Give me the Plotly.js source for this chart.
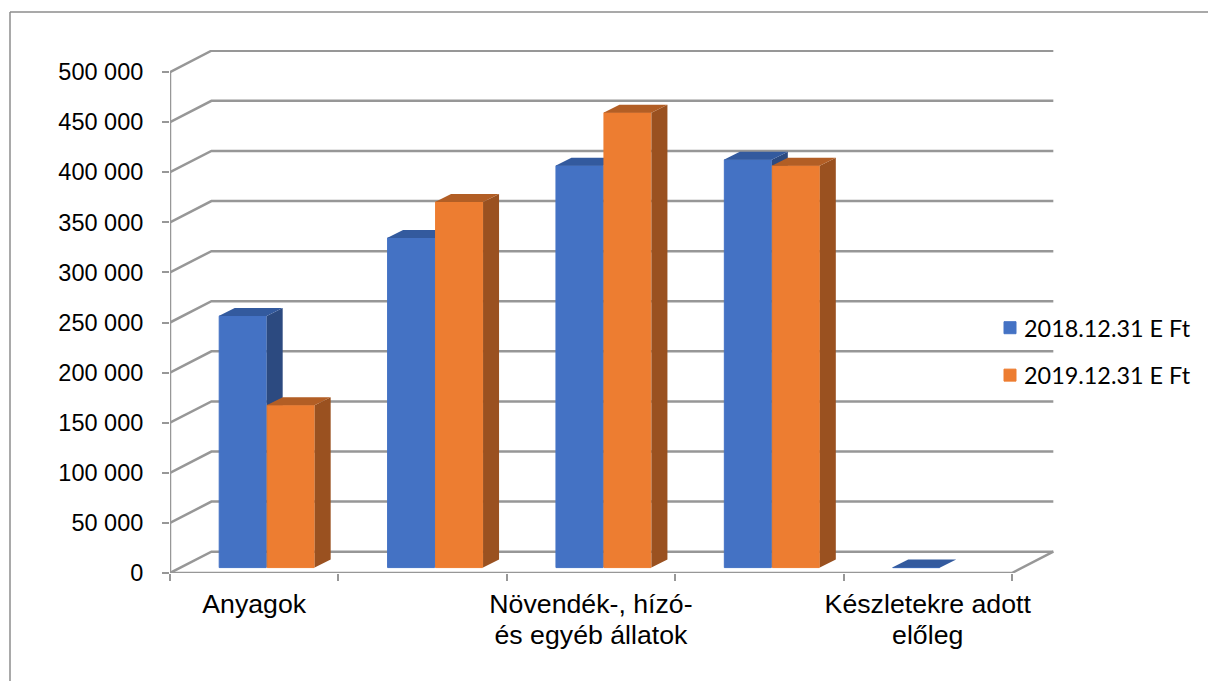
<!DOCTYPE html>
<html>
<head>
<meta charset="utf-8">
<script src="https://cdn.plot.ly/plotly-3.0.1.min.js"></script>
<style>html,body{margin:0;padding:0;background:#fff}#c{width:1208px;height:681px}
.legend{transform:translate(990px,306px)}
.legend .legendtext{transform:translateX(-6px)}</style>
</head>
<body>
<div id="c"></div>
<script>
const categories = ["Anyagok", "Cat2", "Növendék-, hízó-", "Cat4", "Készletekre adott"];
const labelSlots = [0.5, 2.5, 4.5];
const labelLines = ["Anyagok", "Növendék-, hízó-<br>és egyéb állatok", "Készletekre adott<br>előleg"];
const series2018 = [251000, 329000, 401000, 407000, 0];
const series2019 = [162000, 365000, 454000, 401000, null];
const yTicks = [0, 50000, 100000, 150000, 200000, 250000, 300000, 350000, 400000, 450000, 500000];
const yLabels = ["0", "50 000", "100 000", "150 000", "200 000", "250 000", "300 000", "350 000", "400 000", "450 000", "500 000"];
const xEdges = [0, 1, 2, 3, 4, 5];

const labelTexts = labelLines.map(s => s.split('<br>').map(l => '<span style="font-size:26.7px">' + l + '</span>').join('<br>'));
const XMAX = 5.25, YMAX = 522000;
const wallDx = 0.246, wallDy = 21250;
const frontDx = 0.0742, frontDy = 5400;
const barW = 0.285;
const depthDx = 0.095, depthDy = 8000;
const GRID = '#979797';

function gridTrace() {
  const x = [], y = [];
  yTicks.forEach(v => { x.push(0, wallDx, 5 + wallDx, null); y.push(v, v + wallDy, v + wallDy, null); });
  x.push(0, 0, null, 0, 5, 5 + wallDx); y.push(0, yTicks[yTicks.length - 1], null, 0, 0, wallDy);
  return {type:'scatter', mode:'lines', x, y, cliponaxis:false, hoverinfo:'skip', showlegend:false,
    line:{color:GRID, width:2.5}};
}
function faces(vals, off, axes, side, top) {
  const sx = [], sy = [], tx = [], ty = [];
  vals.forEach((v, i) => {
    if (v === null) return;
    const x0 = i + 0.5 + frontDx + off, x1 = x0 + barW, b = frontDy, t = b + v;
    sx.push(x1, x1 + depthDx, x1 + depthDx, x1, x1, null);
    sy.push(b, b + depthDy, t + depthDy, t, b, null);
    tx.push(x0, x0 + depthDx, x1 + depthDx, x1, x0, null);
    ty.push(t, t + depthDy, t + depthDy, t, t, null);
  });
  const mk = (x, y, c) => ({type:'scatter', mode:'lines', x, y, xaxis:axes[0], yaxis:axes[1], fill:'toself',
    fillcolor:c, line:{width:0, color:c}, cliponaxis:false, hoverinfo:'skip', showlegend:false});
  return [mk(sx, sy, side), mk(tx, ty, top)];
}
function bars(name, vals, off, axes, color) {
  return {type:'bar', name, legendgroup:name, x:vals.map((_, i) => i + 0.5 + frontDx + off + barW / 2),
    y:vals, base:vals.map(() => frontDy), width:barW - 0.006, xaxis:axes[0], yaxis:axes[1],
    marker:{color, line:{color, width:1}}, cliponaxis:false};
}
const data = [
  gridTrace(),
  bars('2018.12.31 E Ft', series2018, -barW, ['x2', 'y2'], '#4472C4'),
  ...faces(series2018, -barW, ['x2', 'y2'], '#2C4A80', '#335A9E'),
  bars('2019.12.31 E Ft', series2019, 0, ['x3', 'y3'], '#ED7D31'),
  ...faces(series2019, 0, ['x3', 'y3'], '#9A5120', '#B25E25'),
];
const hiddenX = {overlaying:'x', range:[0, XMAX], visible:false, fixedrange:true};
const hiddenY = {range:[0, YMAX], visible:false, fixedrange:true};
const L = 170, R = 1054, T = 50, B = 573;
const layout = {
  width:1208, height:681,
  margin:{l:L, r:1208 - R, t:T, b:681 - B, pad:0},
  paper_bgcolor:'#fff', plot_bgcolor:'rgba(0,0,0,0)',
  showlegend:true,
  barmode:'overlay',
  legend:{x:(970 - L) / (R - L), xanchor:'left', y:(573 - 305.5) / (B - T), yanchor:'top',
    tracegroupgap:14,
    font:{family:'Lato, sans-serif', size:23.4, color:'#000'}, itemwidth:30, bgcolor:'rgba(0,0,0,0)'},
  font:{family:'"Liberation Sans", Arial, sans-serif', size:23.5, color:'#000'},
  xaxis:{range:[0, XMAX], tickmode:'array', tickvals:labelSlots, ticktext:labelTexts, ticks:'', showgrid:false,
    zeroline:false, showline:false, fixedrange:true, ticklabelstandoff:15, tickangle:0, tickfont:{size:24},
    minor:{tickmode:'array', tickvals:xEdges, ticks:'outside', ticklen:7, tickwidth:1.5, tickcolor:GRID, showgrid:false}},
  yaxis:{range:[0, YMAX], tickmode:'array', tickvals:yTicks, ticktext:yLabels, ticks:'outside', ticklen:7, tickwidth:1.5,
    tickcolor:GRID, showgrid:false, zeroline:false, showline:false, fixedrange:true, ticklabelstandoff:14},
  xaxis2:{...hiddenX}, yaxis2:{...hiddenY, overlaying:'y'},
  xaxis3:{...hiddenX}, yaxis3:{...hiddenY, overlaying:'y'},
  shapes:[
    {type:'line', xref:'paper', yref:'paper', x0:(10 - L) / (R - L), x1:(1208 - L) / (R - L), y0:(B - 12) / (B - T), y1:(B - 12) / (B - T), line:{color:'#8c8c8c', width:1.5}},
    {type:'line', xref:'paper', yref:'paper', x0:(10 - L) / (R - L), x1:(10 - L) / (R - L), y0:(B - 12) / (B - T), y1:(B - 681) / (B - T), line:{color:'#8c8c8c', width:1.5}}
  ]
};
Plotly.newPlot('c', data, layout, {displayModeBar:false, responsive:false});
</script>
</body>
</html>
